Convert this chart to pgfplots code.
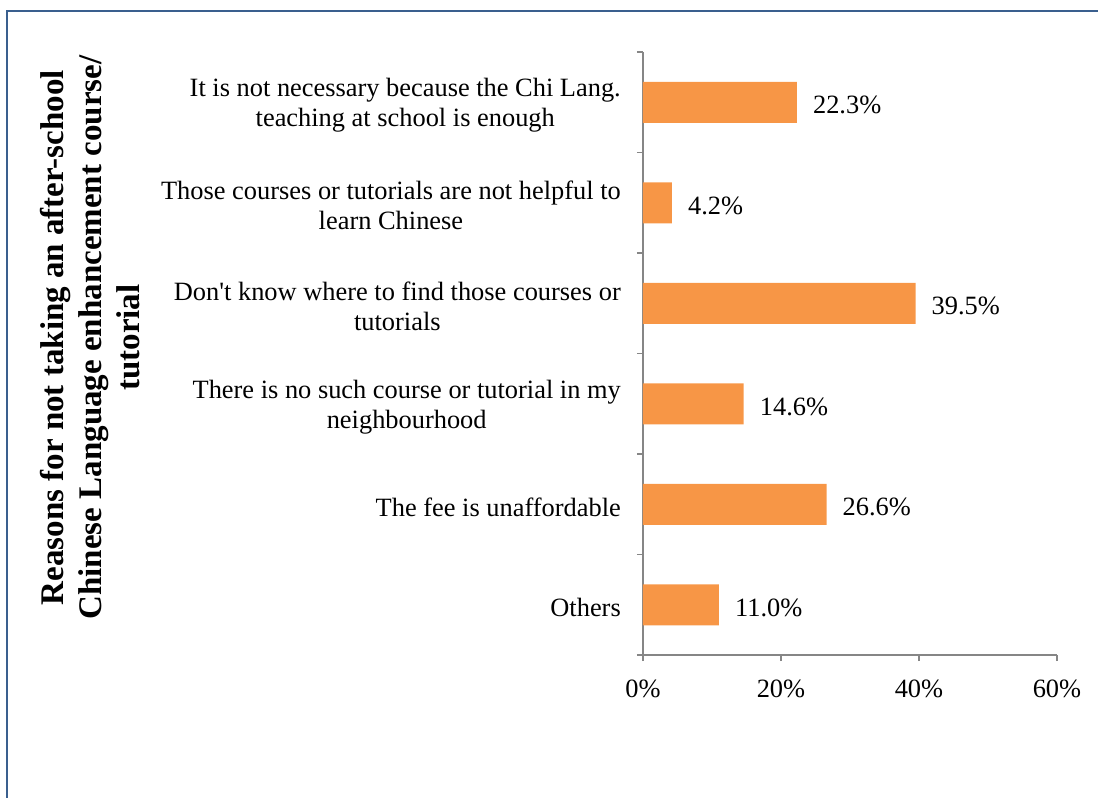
\documentclass[border=0pt]{standalone}
\usepackage{fontspec}
\setmainfont{Liberation Serif}
\usepackage{pgfplots}
\pgfplotsset{compat=1.18}
\definecolor{barorange}{HTML}{F79646}
\definecolor{axgray}{HTML}{868686}
\definecolor{frameblue}{HTML}{3A5F8E}

\begin{document}
\fontsize{13.2}{15}\selectfont
\begin{tikzpicture}
  % outer frame (cut by the page on the right and bottom)
  \draw[frameblue, line width=1.2pt] (3.5pt,-10pt) -- (3.5pt,393.5pt) -- (560pt,393.5pt);

  \begin{axis}[
      at={(321.5pt,71.5pt)}, anchor=south west,
      scale only axis, width=207pt, height=301.5pt,
      xbar, bar width=20.5pt,
      xmin=0, xmax=60, ymin=-0.5, ymax=5.5,
      axis lines*=left,
      axis line style={axgray, line width=0.8pt},
      tick align=outside,
      major tick length=3pt, minor tick length=3pt,
      tick style={axgray, line width=0.8pt},
      major y tick style={draw=none},
      xtick={0,20,40,60},
      xticklabel={\pgfmathprintnumber{\tick}\%},
      /pgf/number format/assume math mode=true,
      ytick={0,...,5},
      minor ytick={-0.5,0.5,...,5.5},
      yticklabels={
        {Others},
        {The fee is unaffordable},
        {There is no such course or tutorial in my\\neighbourhood},
        {Don\textquotesingle t know where to find those courses or\\tutorials},
        {Those courses or tutorials are not helpful to\\learn Chinese},
        {It is not necessary because the Chi Lang.\\teaching at school is enough}},
      yticklabel style={align=center, xshift=-3.5pt, yshift=-1.5pt},
      xticklabel style={yshift=-5pt},
      point meta=x,
      nodes near coords={\pgfmathprintnumber[fixed,fixed zerofill,precision=1]{\pgfplotspointmeta}\%},
      nodes near coords style={anchor=west, xshift=3.5pt, yshift=-1.5pt, text=black},
    ]
    \addplot[fill=barorange, draw=none] coordinates {
      (11.0,0) (26.6,1) (14.6,2) (39.5,3) (4.2,4) (22.3,5)};
  \end{axis}

  \node[rotate=90, align=center, font=\bfseries\fontsize{16.5}{18.8}\selectfont]
    at (45pt,230.25pt)
    {Reasons for not taking an after-school\\Chinese Language enhancement course/\\tutorial};

  \pgfresetboundingbox
  \useasboundingbox (0,0) rectangle (549pt,399pt);
\end{tikzpicture}
\end{document}
